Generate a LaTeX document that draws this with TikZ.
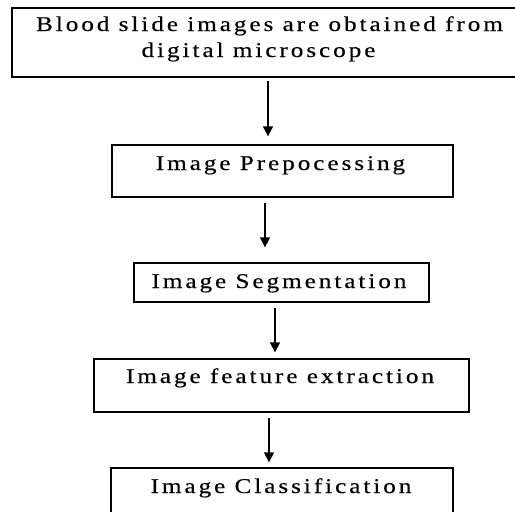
\documentclass[tikz,border=0pt]{standalone}
\usepackage{fontspec}
\setmainfont[FakeStretch=1.2, LetterSpace=14, FakeBold=0.4]{Liberation Serif}
\usetikzlibrary{arrows.meta}
\tikzset{
  flowbox/.style={draw=black, line width=1.3pt, rectangle, inner sep=0pt},
  flowtext/.style={font=\fontsize{21}{25}\selectfont, inner sep=0pt, anchor=base},
  flowarrow/.style={line width=1.4pt, -{Triangle[width=10pt,length=10pt]}}
}
\begin{document}
\begin{tikzpicture}[x=1pt,y=-1pt]
\useasboundingbox (0,0) rectangle (515,512);
% boxes
\node[flowbox, minimum width=505pt, minimum height=69pt] (b1) at (264.5,42.5) {};
\node[flowbox, minimum width=341pt, minimum height=52pt] (b2) at (282.5,171) {};
\node[flowbox, minimum width=295pt, minimum height=39pt] (b3) at (281.5,282.5) {};
\node[flowbox, minimum width=375pt, minimum height=53pt] (b4) at (281.5,385.5) {};
\node[flowbox, minimum width=342pt, minimum height=70pt] (b5) at (282,503) {};
% texts
\node[flowtext] (t1a) at (269.5,31) {Blood slide images are obtained from};
\node[flowtext] (t1b) at (258.5,57) {digital microscope};
\node[flowtext] (t2) at (280.5,170) {Image Prepocessing};
\node[flowtext] (t3) at (279,288) {Image Segmentation};
\node[flowtext] (t4) at (280,383) {Image feature extraction};
\node[flowtext] (t5) at (281,493) {Image Classification};
% arrows
\draw[flowarrow] ([xshift=3.5pt,yshift=-3pt]b1.south) -- ([xshift=-14.5pt,yshift=8pt]b2.north);
\draw[flowarrow] ([xshift=-17.5pt,yshift=-5pt]b2.south) -- ([xshift=-16.5pt,yshift=15pt]b3.north);
\draw[flowarrow] ([xshift=-6.5pt,yshift=-5pt]b3.south) -- ([xshift=-6.5pt,yshift=6pt]b4.north);
\draw[flowarrow] ([xshift=-12.5pt,yshift=-5pt]b4.south) -- ([xshift=-13pt,yshift=5pt]b5.north);
\end{tikzpicture}
\end{document}
